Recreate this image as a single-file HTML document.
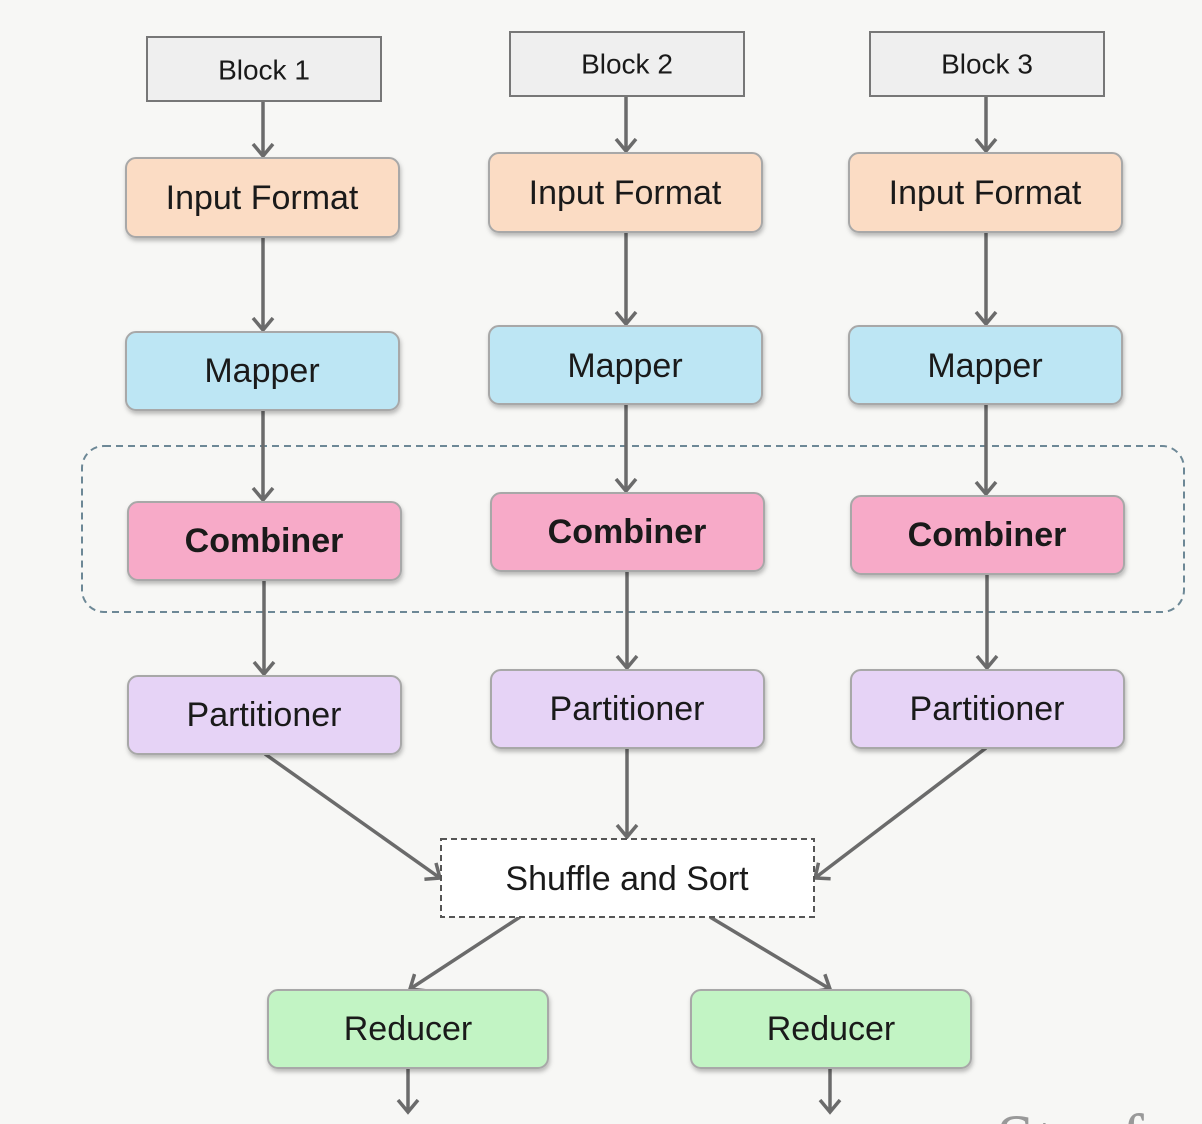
<!DOCTYPE html>
<html><head><meta charset="utf-8"><style>
html,body{margin:0;padding:0;background:#f7f7f5;}
svg{display:block;}
text{font-family:"Liberation Sans",sans-serif;fill:#1a1a1a;text-anchor:middle;dominant-baseline:central;}
</style></head><body>
<svg width="1202" height="1124" viewBox="0 0 1202 1124" xmlns="http://www.w3.org/2000/svg">
<defs>
<marker id="a" markerWidth="20" markerHeight="24" refX="13" refY="12" orient="auto" markerUnits="userSpaceOnUse">
<path d="M1,2 L13,12 L1,22" fill="none" stroke="#6b6b6b" stroke-width="3.5"/>
</marker>
<filter id="s" x="-10%" y="-10%" width="120%" height="130%"><feDropShadow dx="1" dy="3" stdDeviation="2" flood-color="#000" flood-opacity="0.25"/></filter>
</defs>
<rect width="1202" height="1124" fill="#f7f7f5"/>
<rect x="82" y="446" width="1102" height="166" rx="22" fill="none" stroke="#6d8896" stroke-width="2" stroke-dasharray="7,5"/>
<g stroke="#6b6b6b" stroke-width="3.5" fill="none" marker-end="url(#a)">
<line x1="263" y1="101" x2="263" y2="156"/>
<line x1="263" y1="237" x2="263" y2="330"/>
<line x1="263" y1="410" x2="263" y2="500"/>
<line x1="264" y1="580" x2="264" y2="674"/>
<line x1="626" y1="96" x2="626" y2="151"/>
<line x1="626" y1="232" x2="626" y2="324"/>
<line x1="626" y1="404" x2="626" y2="491"/>
<line x1="627" y1="571" x2="627" y2="668"/>
<line x1="986" y1="96" x2="986" y2="151"/>
<line x1="986" y1="232" x2="986" y2="324"/>
<line x1="986" y1="404" x2="986" y2="494"/>
<line x1="987" y1="574" x2="987" y2="668"/>
<line x1="265" y1="754" x2="440" y2="878"/>
<line x1="627" y1="748" x2="627" y2="837"/>
<line x1="986" y1="748" x2="815" y2="878"/>
<line x1="520" y1="917" x2="410" y2="989"/>
<line x1="710" y1="917" x2="830" y2="989"/>
<line x1="408" y1="1068" x2="408" y2="1112"/>
<line x1="830" y1="1068" x2="830" y2="1112"/>
</g>
<g stroke="#777" stroke-width="2">
<rect x="147" y="37" width="234" height="64" fill="#efefef"/>
<rect x="510" y="32" width="234" height="64" fill="#efefef"/>
<rect x="870" y="32" width="234" height="64" fill="#efefef"/>
</g>
<g stroke="#a8a8a8" stroke-width="2" filter="url(#s)">
<rect x="126" y="158" width="273" height="79" rx="10" fill="#fbdcc4"/>
<rect x="489" y="153" width="273" height="79" rx="10" fill="#fbdcc4"/>
<rect x="849" y="153" width="273" height="79" rx="10" fill="#fbdcc4"/>
<rect x="126" y="332" width="273" height="78" rx="10" fill="#bde6f4"/>
<rect x="489" y="326" width="273" height="78" rx="10" fill="#bde6f4"/>
<rect x="849" y="326" width="273" height="78" rx="10" fill="#bde6f4"/>
<rect x="128" y="502" width="273" height="78" rx="10" fill="#f7aac8"/>
<rect x="491" y="493" width="273" height="78" rx="10" fill="#f7aac8"/>
<rect x="851" y="496" width="273" height="78" rx="10" fill="#f7aac8"/>
<rect x="128" y="676" width="273" height="78" rx="10" fill="#e6d3f6"/>
<rect x="491" y="670" width="273" height="78" rx="10" fill="#e6d3f6"/>
<rect x="851" y="670" width="273" height="78" rx="10" fill="#e6d3f6"/>
<rect x="268" y="990" width="280" height="78" rx="10" fill="#c2f4c4"/>
<rect x="691" y="990" width="280" height="78" rx="10" fill="#c2f4c4"/>
</g>
<rect x="441" y="839" width="373" height="78" fill="#fff" stroke="#555" stroke-width="2" stroke-dasharray="6,4"/>
<g font-size="28">
<text x="264" y="70">Block 1</text><text x="627" y="64">Block 2</text><text x="987" y="64">Block 3</text>
</g>
<g font-size="34">
<text x="262" y="198">Input Format</text><text x="625" y="193">Input Format</text><text x="985" y="193">Input Format</text>
<text x="262" y="371">Mapper</text><text x="625" y="366">Mapper</text><text x="985" y="366">Mapper</text>
<text x="264" y="541" font-weight="bold">Combiner</text><text x="627" y="532" font-weight="bold">Combiner</text><text x="987" y="535" font-weight="bold">Combiner</text>
<text x="264" y="715">Partitioner</text><text x="627" y="709">Partitioner</text><text x="987" y="709">Partitioner</text>
<text x="627" y="879">Shuffle and Sort</text>
<text x="408" y="1029">Reducer</text><text x="831" y="1029">Reducer</text>
</g>
<text x="1070" y="1140" font-size="70" style="font-family:'Liberation Serif',serif;fill:#999">Stanf</text>
</svg>
</body></html>
